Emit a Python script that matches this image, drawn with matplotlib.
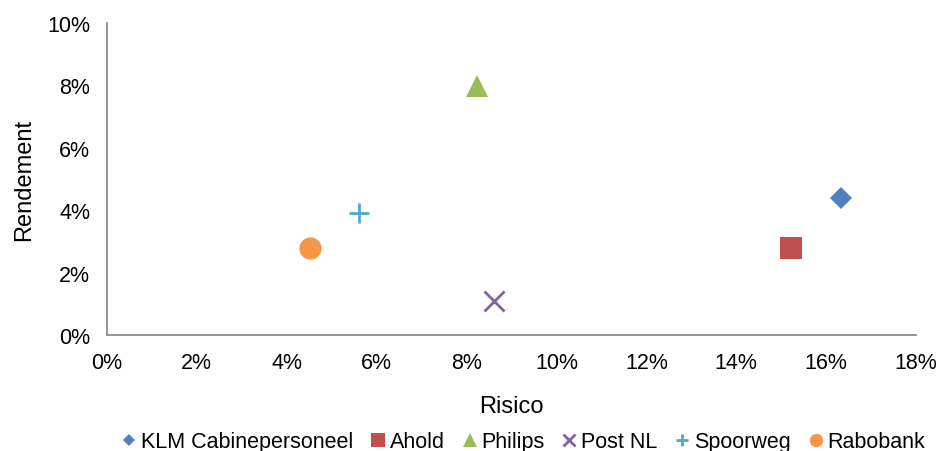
import matplotlib
matplotlib.use("Agg")
import matplotlib.pyplot as plt
from matplotlib.ticker import PercentFormatter

plt.rcParams["font.family"] = ["Liberation Sans", "DejaVu Sans"]

# risico / rendement per fonds, in procenten
names = ["KLM Cabinepersoneel", "Ahold", "Philips", "Post NL", "Spoorweg", "Rabobank"]
risico = [16.33, 15.22, 8.23, 8.60, 5.61, 4.52]
rendement = [4.39, 2.79, 7.99, 1.08, 3.90, 2.79]

colors = ["#4F81BD", "#C0504D", "#9BBB59", "#8064A2", "#4BACC6", "#F79646"]
markers = ["D", "s", "^", "x", "+", "o"]
sizes = [11, 16, 16, 15, 15, 16]

fig = plt.figure(figsize=(9.4, 4.52), dpi=100)
ax = fig.add_axes([0.1138, 0.2566, 0.8607, 0.6903])

for n, x, y, c, m, s in zip(names, risico, rendement, colors, markers, sizes):
    ax.plot([x], [y], ls="none", marker=m, ms=s, color=c, mew=2 if m in "x+" else 0,
            label=n)

ax.set_xlim(0, 18)
ax.set_ylim(0, 10)
ax.set_xticks(range(0, 19, 2))
ax.set_yticks(range(0, 11, 2))
ax.xaxis.set_major_formatter(PercentFormatter(decimals=0))
ax.yaxis.set_major_formatter(PercentFormatter(decimals=0))
ax.tick_params(length=0, labelsize=15.5, pad=12)

for side in ("top", "right"):
    ax.spines[side].set_visible(False)
for side in ("left", "bottom"):
    ax.spines[side].set_color("#8C8C8C")
    ax.spines[side].set_linewidth(1.3)

ax.set_xlabel("Risico", fontsize=17, labelpad=16)
ax.set_ylabel("Rendement", fontsize=17, labelpad=9)

handles, labels = ax.get_legend_handles_labels()
fig.legend(handles, labels, loc="center", bbox_to_anchor=(524 / 940, 9 / 452), ncol=6,
           frameon=False, fontsize=15.5, markerscale=0.6, handlelength=0.6,
           handletextpad=0.25, columnspacing=0.85, borderpad=0)

fig.savefig("out.png", dpi=100)
